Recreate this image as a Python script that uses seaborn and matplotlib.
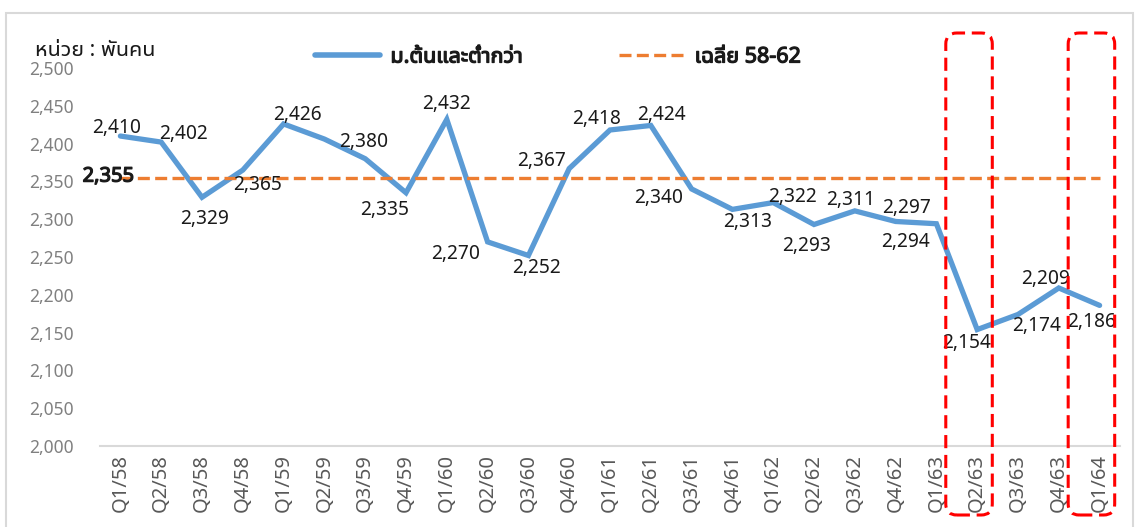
import matplotlib
matplotlib.use("Agg")

import matplotlib.pyplot as plt
import matplotlib.patheffects as pe
import seaborn as sns
from matplotlib.patches import FancyBboxPatch, Rectangle
from matplotlib.lines import Line2D

# ---------------------------- DATA -----------------------------------

quarters = [
    "Q1/58", "Q2/58", "Q3/58", "Q4/58",
    "Q1/59", "Q2/59", "Q3/59", "Q4/59",
    "Q1/60", "Q2/60", "Q3/60", "Q4/60",
    "Q1/61", "Q2/61", "Q3/61", "Q4/61",
    "Q1/62", "Q2/62", "Q3/62", "Q4/62",
    "Q1/63", "Q2/63", "Q3/63", "Q4/63",
    "Q1/64",
]
# workers with lower-secondary education or less (thousand persons)
workers = [
    2410, 2402, 2329, 2365,
    2426, 2406, 2380, 2335,
    2432, 2270, 2252, 2367,
    2418, 2424, 2340, 2313,
    2322, 2293, 2311, 2297,
    2294, 2154, 2174, 2209,
    2186,
]
# Q2/59 has no value label in the original
show_label = [True] * len(quarters)
show_label[5] = False

avg_58_62 = 2355
highlight = ["Q2/63", "Q1/64"]

yticks = list(range(2000, 2501, 50))

series_name = "ม.ต้นและต่ำกว่า"
avg_name = "เฉลี่ย 58-62"
unit_text = "หน่วย : พันคน"

# label offsets from the point, in pixels (dx right, dy down)
label_offsets = [
    (-4, -8), (22, -8), (3, 22), (15, 15),
    (14, -9), (0, 0), (-2, -17), (-21, 17),
    (0, -15), (-32, 12), (8, 13), (-28, -8),
    (-13, -11), (11, -10), (-33, 9), (15, 13),
    (19, -6), (-7, 22), (-4, -11), (11, -13),
    (-31, 18), (-11, 13), (19, 12), (-13, -9),
    (-8, 17),
]

# ---------------------------- STYLE ----------------------------------

BLUE = "#5B9BD5"
ORANGE = "#ED7D31"
RED = "#FF0000"
TEXT = "#1a1a1a"
FONT = ["Noto Sans Thai UI", "Noto Sans Thai", "DejaVu Sans"]
# the Thai font has no bold face here, so thicken glyphs with a stroke
FAKE_BOLD = [pe.withStroke(linewidth=0.9, foreground=TEXT)]

sns.set_theme(style="white")
plt.rcParams["font.family"] = FONT

W, H, DPI = 1136, 527, 100
fig = plt.figure(figsize=(W / DPI, H / DPI), dpi=DPI)
ax = fig.add_axes([100 / W, 1 - 446 / H, 1020 / W, 378 / H])

sns.lineplot(x=quarters, y=workers, ax=ax, color=BLUE, linewidth=3.8,
             sort=False, solid_capstyle="round", solid_joinstyle="miter")
sns.lineplot(x=quarters, y=[avg_58_62] * len(quarters), ax=ax, color=ORANGE,
             linewidth=2.4, sort=False, dashes=False)
ax.lines[-1].set_dashes((3.6, 1.6))

ax.set_xlim(-0.5, len(quarters) - 0.5)
ax.set_ylim(2000, 2500)
ax.set_yticks(yticks)
ax.set_yticklabels([f"{v:,}" for v in yticks], color="#808080", fontsize=12.5)
ax.set_xticks(range(len(quarters)))
ax.set_xticklabels(quarters, rotation=90, color="#595959", fontsize=14.5)
ax.tick_params(axis="y", length=0, pad=19)
ax.tick_params(axis="x", length=0, pad=6)
ax.set_xlabel("")
ax.set_ylabel("")
ax.grid(False)
for side in ["left", "right", "top"]:
    ax.spines[side].set_visible(False)
ax.spines["bottom"].set_color("#d9d9d9")
ax.spines["bottom"].set_linewidth(1.5)

# value labels
for i, (q, v) in enumerate(zip(quarters, workers)):
    if not show_label[i]:
        continue
    dx, dy = label_offsets[i]
    ax.annotate(f"{v:,}", (i, v), xytext=(dx, -dy), textcoords="offset pixels",
                ha="center", va="center", fontsize=13.8, color=TEXT)

ax.annotate(f"{avg_58_62:,}", (0, avg_58_62), xytext=(-12, 1),
            textcoords="offset pixels", ha="center", va="center",
            fontsize=14.5, color=TEXT, path_effects=FAKE_BOLD)

# legend
handles = [
    Line2D([], [], color=BLUE, linewidth=4.0, solid_capstyle="round"),
    Line2D([], [], color=ORANGE, linewidth=2.4, dashes=(3.6, 1.6)),
]
leg = fig.legend(handles, [series_name, avg_name], loc="center",
                 bbox_to_anchor=(558 / W, 1 - 57 / H), ncol=2, frameon=False,
                 handlelength=3.0, handletextpad=0.5, columnspacing=4.5,
                 prop={"size": 15.5})
for t in leg.get_texts():
    t.set_color(TEXT)
    t.set_path_effects(FAKE_BOLD)

fig.text(35 / W, 1 - 50 / H, unit_text, fontsize=15.5, ha="left",
         va="center", color=TEXT)

# chart frame
fig.add_artist(Rectangle((6 / W, -0.05), 1127 / W, 1.05 - 13 / H,
                         transform=fig.transFigure, fill=False,
                         edgecolor="#d9d9d9", linewidth=1.5))

# red dashed highlight boxes around selected quarters
for q in highlight:
    i = quarters.index(q)
    x0 = ax.transData.transform((i - 0.77, 0))[0]
    x1 = ax.transData.transform((i + 0.37, 0))[0]
    y0, y1 = H - 515, H - 33
    box = FancyBboxPatch((x0, y0), x1 - x0, y1 - y0,
                         boxstyle="round,pad=0,rounding_size=11",
                         fill=False, edgecolor=RED, linewidth=2.2,
                         linestyle=(0, (4.3, 2.2)), transform=None,
                         clip_on=False)
    fig.add_artist(box)

fig.savefig("out.png", dpi=DPI)
